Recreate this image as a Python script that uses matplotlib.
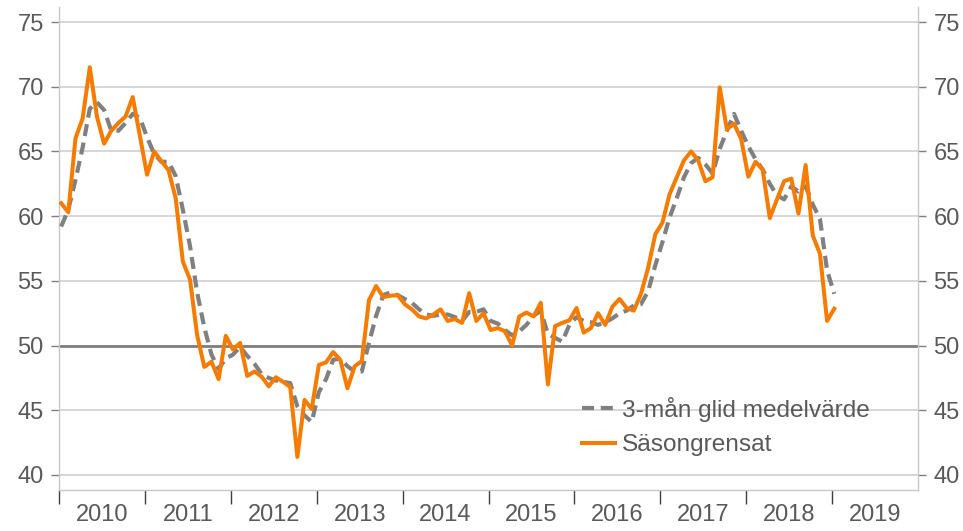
import numpy as np
import pandas as pd
import matplotlib
matplotlib.use("Agg")
import matplotlib.pyplot as plt
from matplotlib.ticker import FixedLocator, NullFormatter, FixedFormatter

plt.rcParams["font.family"] = ["Liberation Sans", "DejaVu Sans"]

# --- data: monthly, Jan 2010 - Jan 2019 ---
sasongrensat = [
    61.0, 60.3, 66.0, 67.55, 71.5, 67.7, 65.6, 66.6, 67.2, 67.7, 69.2, 66.2,   # 2010
    63.2, 65.0, 64.25, 63.55, 61.4, 56.5, 55.1, 50.8, 48.35, 48.75, 47.4, 50.75,  # 2011
    49.7, 50.2, 47.65, 48.0, 47.6, 46.85, 47.55, 47.2, 46.8, 41.4, 45.8, 45.1,  # 2012
    48.5, 48.7, 49.5, 48.9, 46.7, 48.4, 48.8, 53.5, 54.6, 53.75, 53.85, 53.9,  # 2013
    53.2, 52.8, 52.25, 52.1, 52.4, 52.8, 51.9, 52.05, 51.75, 54.05, 51.9, 52.5,  # 2014
    51.2, 51.35, 51.1, 50.0, 52.25, 52.55, 52.25, 53.3, 47.0, 51.5, 51.75, 51.95,  # 2015
    52.9, 51.0, 51.35, 52.5, 51.6, 53.0, 53.6, 52.9, 52.7, 54.0, 56.0, 58.6,  # 2016
    59.5, 61.7, 63.0, 64.3, 65.0, 64.3, 62.7, 63.0, 69.95, 66.7, 67.15, 65.95,  # 2017
    63.05, 64.2, 63.6, 59.85, 61.3, 62.7, 62.9, 60.2, 63.95, 58.5, 57.1, 51.9,  # 2018
    52.85,  # 2019
]
glid_medel = [
    59.2, 60.5, 62.8, 65.3, 68.3, 68.8, 68.2, 66.6, 66.6, 67.2, 67.9, 67.6,
    66.1, 64.8, 64.2, 64.2, 63.1, 60.5, 57.7, 54.1, 51.4, 49.3, 48.2, 49.0,
    49.3, 49.9, 49.2, 48.6, 47.8, 47.5, 47.3, 47.2, 47.1, 45.3, 44.6, 44.1,
    46.4, 47.4, 48.9, 49.0, 48.4, 48.0, 48.0, 50.2, 52.3, 53.9, 54.1, 53.9,
    53.6, 53.3, 52.8, 52.4, 52.3, 52.4, 52.4, 52.2, 51.9, 52.6, 52.6, 52.8,
    51.9, 51.7, 51.2, 50.8, 51.1, 51.6, 52.3, 52.7, 50.9, 50.6, 50.3, 51.6,
    52.2, 51.9, 51.8, 51.6, 51.8, 52.1, 52.5, 52.7, 53.1, 53.2, 54.2, 56.2,
    58.0, 59.9, 61.4, 63.0, 64.1, 64.5, 64.0, 63.3, 65.2, 66.6, 67.9, 66.6,
    65.4, 64.4, 63.6, 62.5, 61.6, 61.3, 62.3, 61.9, 62.3, 60.9, 59.8, 55.8,
    54.0,
]
years = list(range(2010, 2020))
y_ticks = [40, 45, 50, 55, 60, 65, 70, 75]

dates = pd.date_range("2010-01-01", periods=len(sasongrensat), freq="MS")
x = dates.year + (dates.month - 1) / 12 + 0.025

text_col = "#595959"
fs = 17
fig = plt.figure(figsize=(9.63, 5.31), dpi=100)
ax = fig.add_axes([59 / 963, 1 - 490 / 531, (918 - 59) / 963, (490 - 7) / 531])

ax.set_xlim(2010, 2020)
ax.set_ylim(40 - 15 / 12.94, 75 + 15 / 12.94)

for v in y_ticks:
    ax.axhline(v, color="#cfcfcf", lw=1.2, zorder=1)
ax.axhline(50, color="#7f7f7f", lw=2.0, zorder=2)

ax.plot(x, glid_medel, color="#808080", lw=3.0, ls=(0, (2.9, 1.6)),
        label="3-mån glid medelvärde", zorder=3)
ax.plot(x, sasongrensat, color="#f57c00", lw=2.9, label="Säsongrensat",
        zorder=4)

for side in ["left", "right", "bottom"]:
    ax.spines[side].set_color("#c8c8c8")
    ax.spines[side].set_linewidth(1.0)
ax.spines["top"].set_visible(False)

ax.set_yticks(y_ticks)
ax.tick_params(axis="y", which="both", left=True, right=True, labelleft=True,
               labelright=True, direction="out", length=6, width=1.0,
               color="#7f7f7f", labelsize=fs, labelcolor=text_col, pad=5)

ax.xaxis.set_major_locator(FixedLocator(years))
ax.xaxis.set_major_formatter(NullFormatter())
ax.xaxis.set_minor_locator(FixedLocator([y + 0.5 for y in years]))
ax.xaxis.set_minor_formatter(FixedFormatter([str(y) for y in years]))
ax.tick_params(axis="x", which="major", direction="out", length=10, width=1.0,
               color="#404040")
ax.tick_params(axis="x", which="minor", length=0, labelsize=fs,
               labelcolor=text_col, pad=10)

leg = ax.legend(loc="lower left", bbox_to_anchor=((582 - 59) / 859, 0.07),
                frameon=False, fontsize=17.6, handlelength=1.35, handletextpad=0.3,
                labelspacing=0.5, borderpad=0, borderaxespad=0,
                labelcolor=text_col)

fig.savefig("out.png", dpi=100)
